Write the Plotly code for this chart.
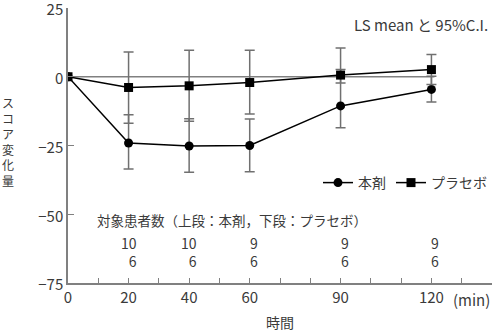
import plotly.graph_objects as go

# ---- data ----
time_min = [0, 20, 40, 60, 90, 120]
drug_mean = [0, -24.1, -25.2, -25.0, -10.6, -4.6]
drug_upper = [0, -13.8, -15.3, -15.4, 2.6, 0.2]
drug_lower = [0, -33.5, -34.7, -34.5, -18.5, -9.2]
placebo_mean = [0, -3.9, -3.3, -2.1, 0.6, 2.6]
placebo_upper = [0, 9.0, 9.6, 9.6, 10.5, 8.1]
placebo_lower = [0, -16.9, -16.2, -13.5, -2.3, -2.8]
n_drug = ["10", "10", "9", "9", "9"]
n_placebo = ["6", "6", "6", "6", "6"]
n_times = [20, 40, 60, 90, 120]
xtick_vals = list(range(0, 150, 10))
xtick_labels = ["0", "", "20", "", "40", "", "60", "", "", "90", "", "", "120", "", ""]
ytick_vals = [25, 0, -25, -50, -75]

FONT = "Noto Sans CJK JP"
TXT = "#3a3a3a"
AX = "#808080"

W, H = 500, 335
L, R, T, B = 68, 8, 8, 52
pw, ph = W - L - R, H - T - B


def px_x(x):
    return (x - L) / pw


def px_y(y):
    return 1 - (y - T) / ph


fig = go.Figure()


def err(mean, up, lo):
    return dict(type="data", symmetric=False,
                array=[u - m for u, m in zip(up, mean)],
                arrayminus=[m - l for m, l in zip(mean, lo)],
                color="#707070", thickness=1.5, width=5)


fig.add_trace(go.Scatter(x=time_min, y=drug_mean, name="本剤", mode="lines+markers",
                         line=dict(color="black", width=1.5),
                         marker=dict(symbol="circle", size=9, color="black"),
                         error_y=err(drug_mean, drug_upper, drug_lower)))
fig.add_trace(go.Scatter(x=time_min, y=placebo_mean, name="プラセボ", mode="lines+markers",
                         line=dict(color="black", width=1.5),
                         marker=dict(symbol="square", size=9, color="black"),
                         error_y=err(placebo_mean, placebo_upper, placebo_lower)))

# zero reference line
fig.add_shape(type="line", x0=0, x1=121, y0=0, y1=0, xref="x", yref="y",
              line=dict(color=AX, width=1.5), layer="below")

annotations = []
annotations.append(dict(x=px_x(490), xref="paper", y=px_y(24), yref="paper",
                        text="LS mean と 95%C.I.",
                        showarrow=False, xanchor="right", yanchor="middle",
                        font=dict(size=15, color=TXT, family=FONT)))
annotations.append(dict(x=54, xref="x", y=px_y(220), yref="paper",
                        text="対象患者数（上段：本剤，下段：プラセボ）",
                        showarrow=False, xanchor="center", yanchor="middle",
                        font=dict(size=13.5, color=TXT, family=FONT)))
for t, a, b in zip(n_times, n_drug, n_placebo):
    annotations.append(dict(x=t, xref="x", y=px_y(252), yref="paper", text=a + "<br>" + b,
                            showarrow=False, align="right",
                            xanchor="right", xshift=9, yanchor="middle", borderpad=0,
                            font=dict(size=14, color=TXT, family=FONT)))
annotations.append(dict(x=px_x(471), xref="paper", y=px_y(299), yref="paper", text="(min)",
                        showarrow=False, xanchor="center", yanchor="middle",
                        font=dict(size=15, color=TXT, family=FONT)))
# vertical y-axis title, stacked characters
ylab = "スコア変化量"
annotations.append(dict(x=px_x(8), xref="paper", y=px_y(141), yref="paper",
                        text="<br>".join(ylab), showarrow=False, align="center",
                        xanchor="center", yanchor="middle", borderpad=0,
                        font=dict(size=12, color=TXT, family=FONT)))

fig.update_layout(
    width=W, height=H,
    margin=dict(l=L, r=R, t=T, b=B, autoexpand=False),
    paper_bgcolor="white", plot_bgcolor="white",
    font=dict(family=FONT, color=TXT, size=14),
    showlegend=True,
    legend=dict(orientation="h", x=px_x(492), xanchor="right", y=px_y(183), yanchor="middle",
                font=dict(size=14, color=TXT, family=FONT), bgcolor="rgba(0,0,0,0)",
                itemwidth=30, tracegroupgap=0),
    annotations=annotations,
    xaxis=dict(range=[0, 140], tickvals=xtick_vals, ticktext=xtick_labels,
               ticks="inside", ticklen=5, tickcolor=AX, tickwidth=1.2, automargin=False,
               showline=True, linecolor=AX, linewidth=1.5, showgrid=False, zeroline=False,
               tickfont=dict(size=15, color=TXT, family=FONT),
               title=dict(text="時間", font=dict(size=14, color=TXT, family=FONT), standoff=12)),
    yaxis=dict(range=[-75, 25], tickvals=ytick_vals, ticks="inside", ticklen=6,
               tickcolor=AX, tickwidth=1.2, showline=True, linecolor=AX, linewidth=1.5,
               showgrid=False, zeroline=False, ticklabeloverflow="allow", automargin=False,
               ticklabelshift=2,
               tickfont=dict(size=15, color=TXT, family=FONT)),
)

fig.write_html("out.html")
